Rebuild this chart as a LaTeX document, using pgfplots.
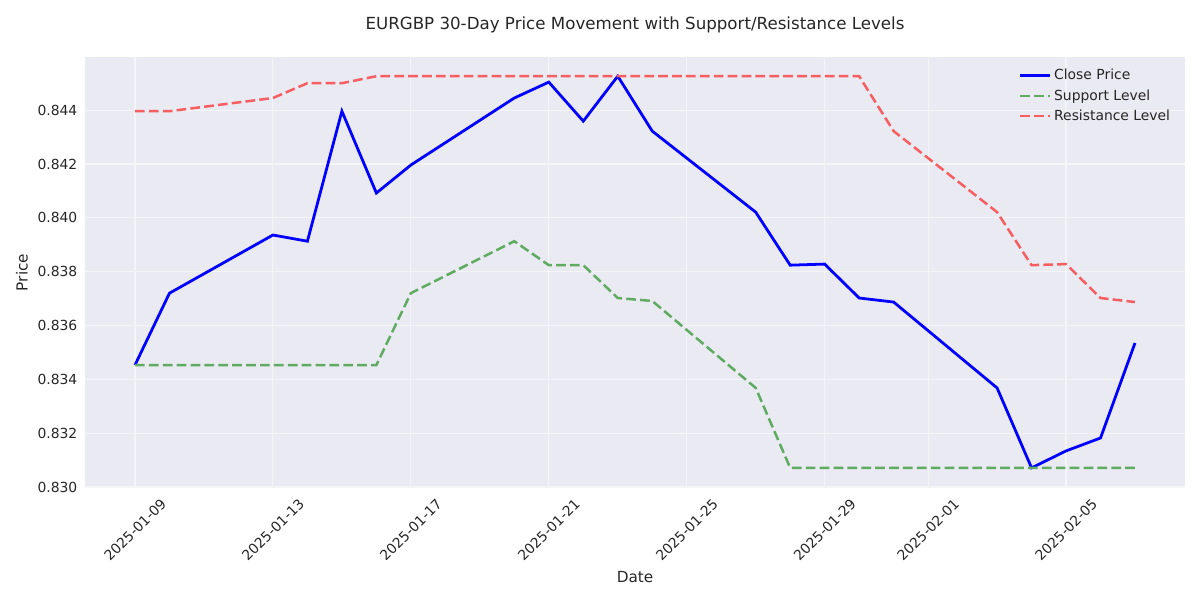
\documentclass[border=0pt]{standalone}
\usepackage{fontspec}
\setmainfont{DejaVu Sans}
\usepackage{pgfplots}
\pgfplotsset{compat=1.18}
\definecolor{bgc}{RGB}{234,234,242}
\definecolor{txt}{RGB}{38,38,38}
\definecolor{gridc}{RGB}{245,245,248}
\definecolor{closec}{RGB}{0,0,255}
\definecolor{supc}{RGB}{94,171,97}
\definecolor{resc}{RGB}{246,94,97}

% days counted from 2025-01-09
\pgfplotstableread{
d close support resistance
0  0.83453 0.83453 0.84396
1  0.83720 0.83453 0.84396
4  0.83936 0.83453 0.84445
5  0.83913 0.83453 0.84500
6  0.84396 0.83453 0.84500
7  0.84092 0.83453 0.84526
8  0.84196 0.83720 0.84526
11 0.84445 0.83913 0.84526
12 0.84504 0.83824 0.84526
13 0.84359 0.83824 0.84526
14 0.84526 0.83702 0.84526
15 0.84322 0.83691 0.84526
18 0.84021 0.83368 0.84526
19 0.83824 0.83071 0.84526
20 0.83828 0.83071 0.84526
21 0.83702 0.83071 0.84526
22 0.83687 0.83071 0.84322
25 0.83368 0.83071 0.84021
26 0.83071 0.83071 0.83824
27 0.83134 0.83071 0.83828
28 0.83182 0.83071 0.83702
29 0.83535 0.83071 0.83687
}\pricedata

\begin{document}
\begin{tikzpicture}
\useasboundingbox (-61.2pt,-80.6pt) rectangle (802.8pt,351.4pt);
\begin{axis}[
  at={(0,0)}, anchor=south west,
  scale only axis,
  width=792pt, height=310.3pt,
  xmin=-1.45, xmax=30.45,
  ymin=0.82996, ymax=0.84597,
  axis background/.style={fill=bgc},
  axis line style={draw=none},
  major tick length=0pt,
  grid=major,
  grid style={gridc, line width=0.8pt},
  font=\fontsize{10}{12}\selectfont,
  tick label style={txt},
  xtick={0,4,8,12,16,20,23,27},
  xticklabels={2025-01-09,2025-01-13,2025-01-17,2025-01-21,2025-01-25,2025-01-29,2025-02-01,2025-02-05},
  xticklabel style={anchor=center, yshift=-30pt, rotate=45},
  ytick={0.830,0.832,0.834,0.836,0.838,0.840,0.842,0.844},
  scaled y ticks=false,
  yticklabel style={/pgf/number format/fixed, /pgf/number format/precision=3,
    /pgf/number format/fixed zerofill, /pgf/number format/assume math mode=true,
    xshift=-2pt},
  xlabel={Date},
  xlabel style={at={([yshift=-64pt]rel axis cs:0.5,0)}, anchor=center,
    font=\fontsize{11}{13}\selectfont, txt},
  ylabel={Price},
  ylabel style={at={([xshift=-45.4pt]rel axis cs:0,0.5)}, anchor=center,
    font=\fontsize{11}{13}\selectfont, txt},
  title={EURGBP 30-Day Price Movement with Support/Resistance Levels},
  title style={at={([yshift=17.5pt]rel axis cs:0.5,1)}, anchor=center,
    font=\fontsize{12}{14}\selectfont, txt},
  legend style={at={(rel axis cs:0.993,0.985)}, anchor=north east,
    draw=none, fill=none, text=txt, row sep=1.5pt,
    font=\fontsize{10}{12}\selectfont},
  legend cell align=left,
  legend image code/.code={\draw[#1] (0pt,0pt) -- (21.6pt,0pt);},
]
\addplot[closec, line width=2pt] table[x=d, y=close] {\pricedata};
\addplot[supc, line width=1.8pt, dash pattern=on 7pt off 3pt] table[x=d, y=support] {\pricedata};
\addplot[resc, line width=1.8pt, dash pattern=on 7pt off 3pt] table[x=d, y=resistance] {\pricedata};
\legend{Close Price, Support Level, Resistance Level}
\end{axis}
\end{tikzpicture}
\end{document}
